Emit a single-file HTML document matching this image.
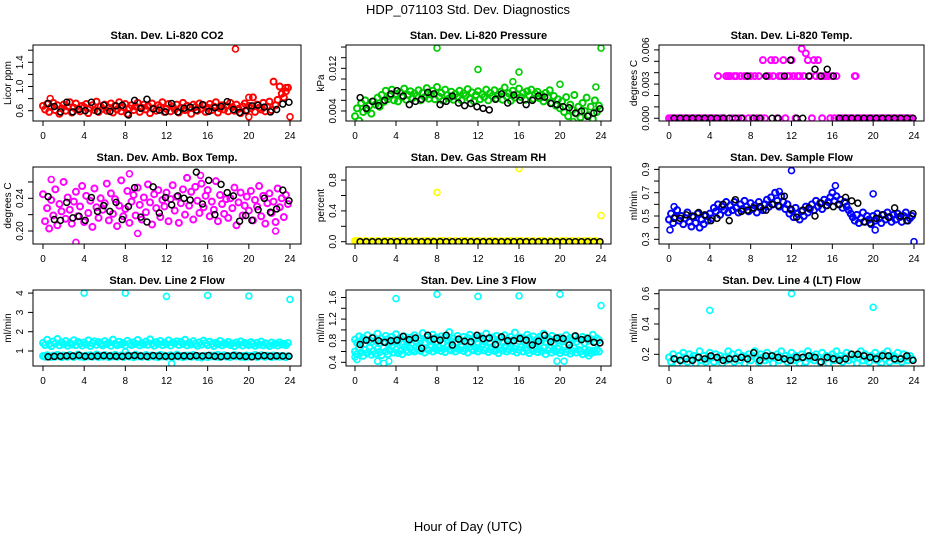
<!DOCTYPE html>
<html><head><meta charset="utf-8"><title>HDP_071103 Std. Dev. Diagnostics</title>
<style>
html,body{margin:0;padding:0;background:#fff;}
svg{display:block;font-family:"Liberation Sans",Arial,sans-serif;}
</style></head>
<body>
<svg id="chart" width="936" height="540" viewBox="0 0 936 540">
<rect x="0" y="0" width="936" height="540" fill="#fff"/>
<text x="468" y="14" text-anchor="middle" font-size="13">HDP_071103  Std. Dev. Diagnostics</text>
<text x="468" y="531" text-anchor="middle" font-size="13">Hour of Day (UTC)</text>
</svg>
<script>
// ---------- data ----------
const xTickHours = [0,4,8,12,16,20,24];

const co2Colored = [
0.68,0.62,0.71,0.58,0.66,0.73,0.61,0.69,0.55,0.64,
0.70,0.60,0.67,0.74,0.57,0.65,0.72,0.63,0.59,0.68,
0.66,0.71,0.56,0.64,0.69,0.61,0.75,0.58,0.67,0.63,
0.70,0.60,0.65,0.72,0.57,0.68,0.62,0.74,0.59,0.66,
0.71,0.55,0.64,0.69,0.61,0.67,0.73,0.58,0.65,0.70,
0.62,0.68,0.56,0.72,0.64,0.60,0.69,0.66,0.74,0.58,
0.63,0.71,0.59,0.67,0.62,0.70,0.57,0.65,0.73,0.61,
0.68,0.64,0.55,0.70,0.66,0.60,0.72,0.63,0.69,0.58,
0.65,0.71,0.61,0.67,0.74,0.57,0.64,0.69,0.62,0.68,
0.59,0.73,0.66,0.60,0.70,0.63,0.56,0.67,0.72,0.61,
0.68,0.64,0.82,0.58,0.70,0.65,0.62,0.73,0.59,0.67,
0.75,0.61,1.08,0.69,0.78,1.00,0.88,0.82,0.92,0.98];
const co2Black = [0.72,0.67,0.58,0.74,0.58,0.62,0.60,0.74,0.59,0.69,0.59,0.68,0.69,0.53,0.77,0.64,0.79,0.63,0.61,0.58,0.72,0.58,0.64,0.66,0.61,0.70,0.59,0.65,0.67,0.75,0.62,0.57,0.60,0.68,0.69,0.66,0.58,0.62,0.71,0.74];
const co2OutHours = [18.7,24,20,20,0.7,23.6];
const co2OutValues = [1.62,0.50,0.50,0.82,0.80,0.98];

const presColored = [
0.0030,0.0045,0.0022,0.0055,0.0038,0.0060,0.0042,0.0050,0.0035,0.0058,
0.0052,0.0065,0.0048,0.0070,0.0057,0.0078,0.0062,0.0068,0.0080,0.0060,
0.0072,0.0058,0.0075,0.0066,0.0082,0.0061,0.0070,0.0077,0.0064,0.0073,
0.0068,0.0079,0.0060,0.0074,0.0066,0.0083,0.0063,0.0071,0.0078,0.0062,
0.0085,0.0067,0.0074,0.0059,0.0080,0.0070,0.0064,0.0076,0.0061,0.0072,
0.0066,0.0078,0.0060,0.0073,0.0069,0.0081,0.0063,0.0075,0.0058,0.0070,
0.0077,0.0062,0.0071,0.0066,0.0080,0.0060,0.0074,0.0068,0.0079,0.0063,
0.0070,0.0076,0.0061,0.0084,0.0067,0.0073,0.0059,0.0078,0.0065,0.0071,
0.0082,0.0066,0.0074,0.0061,0.0077,0.0069,0.0080,0.0063,0.0072,0.0076,
0.0064,0.0070,0.0058,0.0074,0.0066,0.0079,0.0055,0.0068,0.0050,0.0062,
0.0045,0.0058,0.0038,0.0066,0.0030,0.0052,0.0042,0.0070,0.0035,0.0048,
0.0028,0.0055,0.0040,0.0065,0.0032,0.0048,0.0025,0.0060,0.0038,0.0050];
const presBlack = [0.0065,0.0045,0.0058,0.0050,0.0060,0.0072,0.0078,0.0068,0.0052,0.0058,0.0062,0.0075,0.0072,0.0052,0.0058,0.0068,0.0055,0.0050,0.0054,0.0048,0.0045,0.0042,0.0062,0.0072,0.0055,0.0070,0.0060,0.0052,0.0060,0.0068,0.0066,0.0054,0.0052,0.0048,0.0046,0.0036,0.0040,0.0030,0.0036,0.0044];
const presOutHours = [8,24,12,16,15.4,20,21.3,23.5];
const presOutValues = [0.0158,0.0158,0.0118,0.0113,0.0095,0.0090,0.0020,0.0085];

const tempColored = [
0,0,0,0,0,0,0,0,0,0,
0,0,0,0,0,0,0,0,0,0,
0,0,0,0,0.0037,0,0,0,0.0037,0.0037,
0.0037,0,0.0037,0.0037,0,0.0037,0,0.0037,0.0037,0,
0.0037,0,0.0037,0,0.0037,0,0.0051,0,0.0037,0.0037,
0.0051,0.0037,0.0051,0,0.0037,0.0037,0.0051,0,0.0037,0.0037,
0.0051,0.0037,0,0.0037,0.0037,0.0061,0.0037,0.0057,0.0051,0.0037,
0,0.0051,0.0037,0.0051,0.0037,0,0.0037,0.0037,0.0037,0,
0.0037,0,0.0037,0,0,0,0,0,0,0,
0,0.0037,0,0,0,0,0,0,0,0,
0,0,0,0,0,0,0,0,0,0,
0,0,0,0,0,0,0,0,0,0];
const tempBlack = [0,0,0,0,0,0,0,0,0,0,0,0,0.0037,0,0,0.0037,0,0,0.0037,0.0051,0,0,0.0037,0.0043,0.0037,0.0043,0.0037,0,0,0,0,0,0,0,0,0,0,0,0,0];
const tempOutHours = [18.3,4.8];
const tempOutValues = [0.0037,0.0037];

const boxColored = [
0.245,0.212,0.228,0.203,0.238,0.219,0.251,0.207,0.233,0.224,
0.260,0.215,0.241,0.226,0.209,0.236,0.248,0.218,0.230,0.255,
0.211,0.243,0.222,0.237,0.205,0.252,0.229,0.216,0.240,0.226,
0.234,0.258,0.213,0.246,0.221,0.239,0.206,0.231,0.262,0.218,
0.227,0.249,0.210,0.236,0.244,0.219,0.253,0.232,0.214,0.241,
0.223,0.257,0.235,0.208,0.245,0.228,0.250,0.217,0.238,0.230,
0.247,0.212,0.239,0.256,0.225,0.242,0.210,0.234,0.251,0.220,
0.265,0.231,0.248,0.214,0.254,0.237,0.222,0.258,0.229,0.243,
0.250,0.218,0.236,0.226,0.261,0.212,0.244,0.233,0.221,0.239,
0.216,0.240,0.228,0.253,0.207,0.235,0.247,0.219,0.231,0.242,
0.225,0.249,0.213,0.238,0.230,0.255,0.218,0.243,0.209,0.234,
0.246,0.222,0.236,0.211,0.252,0.229,0.240,0.217,0.244,0.233];
const boxBlack = [0.242,0.214,0.213,0.235,0.216,0.218,0.213,0.241,0.224,0.231,0.224,0.235,0.214,0.230,0.253,0.217,0.211,0.254,0.222,0.241,0.232,0.243,0.240,0.238,0.272,0.233,0.262,0.220,0.257,0.247,0.243,0.212,0.219,0.213,0.226,0.240,0.223,0.227,0.250,0.237];
const boxOutHours = [0.8,3.2,9.2,15.3,8.4,22.6];
const boxOutValues = [0.263,0.186,0.197,0.268,0.270,0.200];

const rhColored = [
0.01,0,0.01,0,0,0.01,0,0,0.01,0,
0,0.01,0,0,0.01,0,0.01,0,0,0.01,
0,0,0.01,0,0.01,0,0,0.01,0,0,
0.01,0,0,0.01,0,0.01,0,0,0.01,0,
0,0.01,0,0.01,0,0,0.01,0,0,0.01,
0,0,0.01,0,0.01,0,0,0.01,0,0,
0.01,0,0,0.01,0,0,0.01,0,0.01,0,
0,0.01,0,0,0.01,0,0.01,0,0,0.01,
0,0.01,0,0,0.01,0,0,0.01,0,0,
0.01,0,0.01,0,0,0.01,0,0,0.01,0,
0,0.01,0,0.01,0,0,0.01,0,0,0.01,
0,0,0.01,0,0.01,0,0,0.01,0,0];
const rhBlack = [0,0,0,0,0,0,0,0,0,0,0,0,0,0,0,0,0,0,0,0,0,0,0,0,0,0,0,0,0,0,0,0,0,0,0,0,0,0,0,0];
const rhOutHours = [8,16,24,0.1];
const rhOutValues = [0.64,0.95,0.34,0.01];

const flowColored = [
0.47,0.52,0.44,0.49,0.55,0.46,0.50,0.43,0.48,0.53,
0.45,0.41,0.49,0.44,0.52,0.40,0.47,0.43,0.50,0.46,
0.52,0.48,0.57,0.54,0.60,0.51,0.58,0.55,0.62,0.53,
0.59,0.55,0.62,0.57,0.53,0.60,0.56,0.63,0.58,0.54,
0.61,0.56,0.59,0.53,0.62,0.57,0.55,0.60,0.64,0.58,
0.66,0.60,0.70,0.63,0.58,0.67,0.62,0.56,0.60,0.52,
0.55,0.49,0.57,0.52,0.47,0.54,0.50,0.58,0.53,0.56,
0.60,0.55,0.63,0.58,0.61,0.56,0.64,0.59,0.62,0.66,
0.70,0.63,0.67,0.60,0.64,0.57,0.62,0.58,0.55,0.52,
0.49,0.46,0.51,0.44,0.48,0.53,0.45,0.50,0.47,0.43,
0.50,0.46,0.52,0.48,0.44,0.51,0.47,0.53,0.49,0.45,
0.51,0.47,0.52,0.49,0.45,0.50,0.53,0.46,0.48,0.50];
const flowBlack = [0.48,0.48,0.51,0.50,0.53,0.51,0.46,0.48,0.60,0.46,0.64,0.54,0.55,0.57,0.58,0.55,0.60,0.59,0.67,0.56,0.49,0.55,0.57,0.50,0.61,0.59,0.58,0.60,0.66,0.63,0.61,0.45,0.44,0.48,0.51,0.49,0.57,0.50,0.46,0.52];
const flowOutHours = [0.1,12,16.3,20,20.2,24,10.8,0.5];
const flowOutValues = [0.38,0.89,0.76,0.69,0.38,0.28,0.71,0.58];

const line2Upper = [
1.42,1.31,1.58,1.36,1.25,1.49,1.38,1.62,1.29,1.45,
1.35,1.52,1.27,1.41,1.33,1.56,1.30,1.47,1.39,1.28,
1.44,1.34,1.55,1.26,1.40,1.50,1.32,1.46,1.37,1.29,
1.51,1.36,1.43,1.27,1.59,1.38,1.30,1.48,1.35,1.42,
1.28,1.53,1.39,1.31,1.45,1.36,1.57,1.29,1.41,1.34,
1.49,1.32,1.60,1.38,1.27,1.46,1.37,1.52,1.30,1.43,
1.35,1.55,1.28,1.44,1.39,1.50,1.31,1.47,1.36,1.58,
1.29,1.42,1.34,1.51,1.38,1.27,1.45,1.33,1.54,1.40,
1.30,1.48,1.36,1.26,1.43,1.35,1.52,1.29,1.41,1.37,
1.47,1.31,1.39,1.25,1.44,1.34,1.50,1.28,1.42,1.36,
1.30,1.46,1.38,1.27,1.43,1.33,1.49,1.29,1.40,1.35,
1.26,1.44,1.32,1.39,1.28,1.45,1.34,1.37,1.30,1.41];
const line2Lower = [
0.74,0.70,0.78,0.72,0.69,0.76,0.71,0.80,0.73,0.68,
0.77,0.72,0.70,0.79,0.74,0.69,0.75,0.81,0.71,0.73,
0.68,0.76,0.72,0.78,0.70,0.74,0.82,0.69,0.75,0.71,
0.79,0.73,0.68,0.76,0.72,0.80,0.70,0.74,0.77,0.69,
0.73,0.78,0.71,0.75,0.68,0.81,0.72,0.76,0.70,0.74,
0.79,0.69,0.73,0.77,0.71,0.75,0.68,0.80,0.72,0.76,
0.70,0.74,0.78,0.69,0.73,0.81,0.71,0.75,0.68,0.77,
0.72,0.76,0.70,0.79,0.74,0.69,0.73,0.66,0.71,0.75,
0.68,0.77,0.72,0.76,0.70,0.80,0.69,0.74,0.78,0.71,
0.75,0.69,0.73,0.79,0.72,0.76,0.70,0.74,0.68,0.77,
0.71,0.75,0.73,0.80,0.69,0.74,0.78,0.72,0.70,0.76,
0.73,0.69,0.77,0.71,0.75,0.70,0.74,0.72,0.68,0.73];
const line2Black = [0.70,0.72,0.73,0.75,0.74,0.78,0.73,0.72,0.74,0.76,0.74,0.73,0.72,0.75,0.77,0.74,0.72,0.76,0.74,0.73,0.72,0.74,0.75,0.73,0.76,0.74,0.77,0.73,0.71,0.74,0.76,0.75,0.72,0.70,0.74,0.76,0.73,0.75,0.74,0.73];
const line2OutHours = [4,8,12,16,20,24,12.5,8];
const line2OutValues = [4.0,4.0,3.83,3.88,3.85,3.67,0.35,0.95];

const line3Upper = [
0.82,0.76,0.88,0.79,0.85,0.74,0.90,0.81,0.77,0.86,
0.80,0.93,0.75,0.84,0.78,0.89,0.83,0.76,0.87,0.80,
0.92,0.78,0.85,0.74,0.88,0.81,0.79,0.86,0.83,0.90,
0.77,0.84,0.80,0.94,0.76,0.87,0.82,0.79,0.91,0.85,
0.78,0.83,0.88,0.75,0.86,0.81,0.96,0.79,0.84,0.77,
0.89,0.82,0.80,0.87,0.76,0.85,0.91,0.78,0.83,0.86,
0.74,0.88,0.81,0.79,0.93,0.84,0.77,0.86,0.82,0.89,
0.80,0.85,0.76,0.90,0.83,0.78,0.87,0.81,0.95,0.84,
0.79,0.86,0.82,0.77,0.91,0.85,0.80,0.88,0.76,0.83,
0.87,0.81,0.93,0.78,0.85,0.82,0.89,0.76,0.84,0.80,
0.86,0.79,0.83,0.90,0.77,0.85,0.81,0.88,0.78,0.84,
0.82,0.87,0.76,0.85,0.80,0.83,0.91,0.78,0.84,0.81];
const line3Lower = [
0.60,0.55,0.66,0.58,0.52,0.63,0.57,0.68,0.54,0.61,
0.56,0.65,0.59,0.53,0.67,0.60,0.55,0.62,0.70,0.58,
0.64,0.57,0.61,0.55,0.68,0.62,0.59,0.66,0.63,0.60,
0.69,0.64,0.61,0.67,0.58,0.65,0.62,0.71,0.60,0.66,
0.63,0.68,0.61,0.65,0.59,0.70,0.64,0.62,0.67,0.60,
0.66,0.63,0.69,0.61,0.65,0.58,0.68,0.64,0.62,0.67,
0.60,0.65,0.71,0.62,0.66,0.59,0.64,0.68,0.61,0.63,
0.57,0.66,0.62,0.69,0.60,0.64,0.67,0.61,0.65,0.58,
0.63,0.68,0.60,0.66,0.62,0.57,0.65,0.61,0.69,0.59,
0.64,0.60,0.67,0.55,0.62,0.66,0.58,0.63,0.60,0.65,
0.57,0.62,0.68,0.59,0.64,0.56,0.61,0.66,0.58,0.63,
0.60,0.55,0.64,0.58,0.62,0.57,0.61,0.59,0.63,0.60];
const line3Black = [0.73,0.81,0.85,0.80,0.77,0.80,0.81,0.88,0.82,0.85,0.66,0.90,0.83,0.81,0.90,0.72,0.83,0.79,0.78,0.90,0.84,0.85,0.73,0.87,0.80,0.80,0.84,0.81,0.72,0.79,0.90,0.78,0.85,0.84,0.72,0.89,0.82,0.84,0.77,0.76];
const line3OutHours = [0,0.2,2.2,2.8,3.3,4,8,12,16,20,24,19.7,20.4,22.8];
const line3OutValues = [0.50,0.45,0.42,0.38,0.42,1.58,1.66,1.62,1.63,1.66,1.45,0.42,0.42,0.52];

const line4Colored = [
0.18,0.15,0.20,0.17,0.14,0.19,0.16,0.21,0.18,0.15,
0.20,0.17,0.19,0.14,0.18,0.22,0.16,0.19,0.15,0.17,
0.21,0.18,0.15,0.20,0.17,0.19,0.14,0.18,0.16,0.22,
0.17,0.20,0.15,0.18,0.21,0.16,0.19,0.14,0.18,0.20,
0.16,0.19,0.22,0.17,0.15,0.20,0.18,0.16,0.21,0.17,
0.19,0.14,0.18,0.20,0.16,0.22,0.17,0.19,0.15,0.18,
0.21,0.16,0.19,0.17,0.14,0.20,0.18,0.15,0.22,0.17,
0.19,0.16,0.20,0.18,0.15,0.21,0.17,0.19,0.14,0.18,
0.20,0.16,0.22,0.17,0.19,0.15,0.18,0.21,0.16,0.20,
0.17,0.19,0.14,0.18,0.22,0.16,0.20,0.17,0.15,0.19,
0.18,0.21,0.16,0.19,0.14,0.20,0.17,0.22,0.15,0.18,
0.19,0.16,0.21,0.17,0.15,0.20,0.18,0.16,0.19,0.17];
const line4Black = [0.17,0.16,0.17,0.16,0.18,0.17,0.19,0.18,0.16,0.17,0.17,0.18,0.17,0.21,0.16,0.19,0.19,0.18,0.17,0.16,0.18,0.18,0.19,0.18,0.15,0.18,0.17,0.16,0.17,0.20,0.20,0.19,0.18,0.17,0.19,0.19,0.17,0.17,0.19,0.16];
const line4OutHours = [4,12,20,20.7];
const line4OutValues = [0.49,0.60,0.51,0.11];

// sample times (hours): colored series every 0.2 h, black series every 0.6 h from 0.5
const colorHours = co2Colored.map((_, i) => i * 0.2);
const blackHours = co2Black.map((_, i) => 0.5 + i * 0.6);

// ---------- layout ----------
const cols = [
  {bx0:33, bx1:301, h0:43, h24:290},
  {bx0:346, bx1:611, h0:355, h24:601},
  {bx0:659, bx1:924, h0:669, h24:914}
];
const rows = [{by0:45, by1:121}, {by0:167, by1:244}, {by0:290, by1:366}];

const panels = [
 {name:'co2', title:'Stan. Dev. Li-820 CO2', ylab:'Licor ppm', col:0, row:0, color:'#ff0000', ymin:0.430, ymax:1.686,
  ticks:[0.6,0.8,1.0,1.2,1.4,1.6], labels:['0.6','1.0','1.4'], series:[co2Colored], black:co2Black, oh:co2OutHours, ov:co2OutValues},
 {name:'pressure', title:'Stan. Dev. Li-820 Pressure', ylab:'kPa', col:1, row:0, color:'#00cd00', ymin:0.00212, ymax:0.01638,
  ticks:[0.004,0.006,0.008,0.010,0.012,0.014,0.016], labels:['0.004','0.012'], series:[presColored], black:presBlack, oh:presOutHours, ov:presOutValues},
 {name:'li820-temp', title:'Stan. Dev. Li-820 Temp.', ylab:'degrees C', col:2, row:0, color:'#ff00ff', ymin:-0.00024, ymax:0.00643,
  ticks:[0,0.001,0.002,0.003,0.004,0.005,0.006], labels:['0.000','0.003','0.006'], series:[tempColored], black:tempBlack, oh:tempOutHours, ov:tempOutValues},
 {name:'box-temp', title:'Stan. Dev. Amb. Box Temp.', ylab:'degrees C', col:0, row:1, color:'#ff00ff', ymin:0.1841, ymax:0.2783,
  ticks:[0.20,0.22,0.24,0.26], labels:['0.20','0.24'], series:[boxColored], black:boxBlack, oh:boxOutHours, ov:boxOutValues},
 {name:'gas-rh', title:'Stan. Dev. Gas Stream RH', ylab:'percent', col:1, row:1, color:'#ffff00', ymin:-0.030, ymax:0.970,
  ticks:[0,0.2,0.4,0.6,0.8], labels:['0.0','0.4','0.8'], series:[rhColored], black:rhBlack, oh:rhOutHours, ov:rhOutValues},
 {name:'sample-flow', title:'Stan. Dev. Sample Flow', ylab:'ml/min', col:2, row:1, color:'#0000ff', ymin:0.2597, ymax:0.9206,
  ticks:[0.3,0.4,0.5,0.6,0.7,0.8,0.9], labels:['0.3','0.5','0.7','0.9'], series:[flowColored], black:flowBlack, oh:flowOutHours, ov:flowOutValues},
 {name:'line2-flow', title:'Stan. Dev. Line 2 Flow', ylab:'ml/min', col:0, row:2, color:'#00ffff', ymin:0.223, ymax:4.161,
  ticks:[1,2,3,4], labels:['1','2','3','4'], series:[line2Upper,line2Lower], black:line2Black, oh:line2OutHours, ov:line2OutValues},
 {name:'line3-flow', title:'Stan. Dev. Line 3 Flow', ylab:'ml/min', col:1, row:2, color:'#00ffff', ymin:0.3315, ymax:1.739,
  ticks:[0.4,0.6,0.8,1.0,1.2,1.4,1.6], labels:['0.4','0.8','1.2','1.6'], series:[line3Upper,line3Lower], black:line3Black, oh:line3OutHours, ov:line3OutValues},
 {name:'line4-flow', title:'Stan. Dev. Line 4 (LT) Flow', ylab:'ml/min', col:2, row:2, color:'#00ffff', ymin:0.1228, ymax:0.6244,
  ticks:[0.2,0.3,0.4,0.5,0.6], labels:['0.2','0.4','0.6'], series:[line4Colored], black:line4Black, oh:line4OutHours, ov:line4OutValues}
];

const NS = 'http://www.w3.org/2000/svg';
const svg = document.getElementById('chart');
function mk(tag, attrs, parent) {
  const e = document.createElementNS(NS, tag);
  for (const k in attrs) e.setAttribute(k, attrs[k]);
  (parent || svg).appendChild(e);
  return e;
}
function fmt(v){ return String(v); }

panels.forEach((p, pi) => {
  const c = cols[p.col], r = rows[p.row];
  const xs = h => c.h0 + (h / 24) * (c.h24 - c.h0);
  const ys = v => r.by1 - (v - p.ymin) / (p.ymax - p.ymin) * (r.by1 - r.by0);
  const g = mk('g', {});
  
  

  const clipId = 'clip' + pi;
  const cp = mk('clipPath', {id: clipId}, g);
  mk('rect', {x: c.bx0, y: r.by0, width: c.bx1 - c.bx0, height: r.by1 - r.by0}, cp);

  const t = mk('text', {x: (c.bx0 + c.bx1) / 2, y: r.by0 - 6, 'text-anchor': 'middle', 'font-size': 11, 'font-weight': 'bold'}, g);
  t.textContent = p.title;
  
  

  const yl = mk('text', {x: 0, y: 0, 'text-anchor': 'middle', 'font-size': 10,
    transform: 'translate(' + (c.bx0 - 22) + ',' + ((r.by0 + r.by1) / 2) + ') rotate(-90)'}, g);
  yl.textContent = p.ylab;
  
  

  // x axis
  const xa = mk('g', {}, g);
  
  
  mk('line', {x1: xs(xTickHours[0]), x2: xs(xTickHours[xTickHours.length - 1]), y1: r.by1, y2: r.by1, stroke: '#000'}, xa);
  xTickHours.forEach(h => {
    mk('line', {x1: xs(h), x2: xs(h), y1: r.by1, y2: r.by1 + 5, stroke: '#000'}, xa);
    const tl = mk('text', {x: xs(h), y: r.by1 + 18, 'text-anchor': 'middle', 'font-size': 10}, xa);
    tl.textContent = fmt(h);
    
    
  });

  // y axis
  const ya = mk('g', {}, g);
  
  
  p.ticks.forEach(v => {
    mk('line', {x1: c.bx0 - 5, x2: c.bx0, y1: ys(v), y2: ys(v), stroke: '#000'}, ya);
  });
  p.labels.forEach(l => {
    const yt = mk('text', {x: 0, y: 0, 'text-anchor': 'middle', 'font-size': 10,
      transform: 'translate(' + (c.bx0 - 10) + ',' + ys(parseFloat(l)) + ') rotate(-90)'}, ya);
    yt.textContent = l;
    
    
  });

  // points
  const pts = mk('g', {'clip-path': 'url(#' + clipId + ')', fill: 'none'}, g);
  
  
  p.series.forEach(arr => {
    arr.forEach((v, i) => {
      const cc = mk('circle', {cx: xs(colorHours[i]), cy: ys(v), r: 3, stroke: p.color, 'stroke-width': 2}, pts);
      
      
    });
  });
  p.oh.forEach((h, i) => {
    const cc = mk('circle', {cx: xs(h), cy: ys(p.ov[i]), r: 3, stroke: p.color, 'stroke-width': 1.6}, pts);
    
    
  });
  p.black.forEach((v, i) => {
    const cc = mk('circle', {cx: xs(blackHours[i]), cy: ys(v), r: 3, stroke: '#000', 'stroke-width': 1.5}, pts);
    
    
  });

  const box = mk('rect', {x: c.bx0, y: r.by0, width: c.bx1 - c.bx0, height: r.by1 - r.by0, fill: 'none', stroke: '#000'}, g);
  
  
});
</script>
</body></html>
